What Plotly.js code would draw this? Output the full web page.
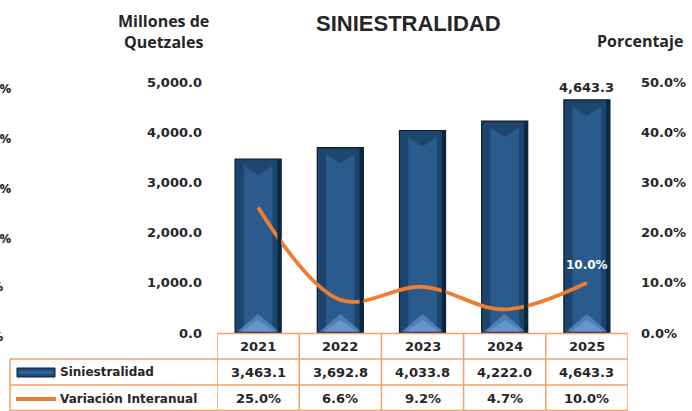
<!DOCTYPE html>
<html>
<head>
<meta charset="utf-8">
<script src="https://cdn.plot.ly/plotly-3.0.1.min.js"></script>
<style>html,body{margin:0;padding:0;background:#fff;}#chart{width:692px;height:411px;}</style>
</head>
<body>
<div id="chart"></div>
<script>
// ---- data ----
const years = ['2021', '2022', '2023', '2024', '2025'];
const siniestralidad = [3463.1, 3692.8, 4033.8, 4222.0, 4643.3];
const variacion = [25.0, 6.6, 9.2, 4.7, 10.0];
const leftTicks = [0, 1000, 2000, 3000, 4000, 5000];
const rightTicks = [0, 10, 20, 30, 40, 50];

// ---- layout helpers ----
const W = 692, H = 411;
const M = {l: 217, r: 64, t: 82, b: 78};
const plotW = W - M.l - M.r, plotH = H - M.t - M.b;
const xp = px => (px - M.l) / plotW;
const yp = py => (M.t + plotH - py) / plotH;
const yMax = 5000;
const unitPerPx = yMax / plotH;
const idx = years.map((_, i) => i);
const barW = 0.56;
const NUM = 'DejaVu Sans, Verdana, sans-serif';
const TXT = '#262626';
const ORANGE = '#ED7D31';
const GRID = '#F3A16A';

const fmt1 = v => v.toLocaleString('en-US', {minimumFractionDigits: 1, maximumFractionDigits: 1});

const traces = [
  {type: 'bar', x: idx, y: siniestralidad, width: barW,
   marker: {color: '#1B456F', line: {color: '#0A1B2E', width: 1.2}},
   hoverinfo: 'skip', showlegend: false},
  {type: 'bar', x: idx, y: siniestralidad.map(v => v - 2 * 6 * unitPerPx),
   base: siniestralidad.map(() => 6 * unitPerPx), width: barW * 0.62,
   marker: {color: '#2A5B8C', line: {width: 0}},
   hoverinfo: 'skip', showlegend: false},
  {type: 'scatter', mode: 'lines', x: idx, y: variacion, yaxis: 'y2',
   line: {color: ORANGE, width: 3.8, shape: 'spline', smoothing: 1},
   hoverinfo: 'skip', showlegend: false}
];

const shapes = [];
const annotations = [];
const hw = barW / 2;
idx.forEach((c, i) => {
  const top = siniestralidad[i];
  // bottom light bevel
  shapes.push({type: 'path', xref: 'x', yref: 'y', layer: 'above', line: {width: 0},
    fillcolor: '#4F80B3',
    path: `M ${c - hw + 0.03} ${1.5 * unitPerPx} L ${c + hw - 0.03} ${1.5 * unitPerPx} L ${c} ${19 * unitPerPx} Z`});
  shapes.push({type: 'path', xref: 'x', yref: 'y', layer: 'above', line: {width: 0},
    fillcolor: '#6696C9',
    path: `M ${c - hw + 0.08} ${1.5 * unitPerPx} L ${c + hw - 0.08} ${1.5 * unitPerPx} L ${c} ${13 * unitPerPx} Z`});
  // top dark bevel
  shapes.push({type: 'path', xref: 'x', yref: 'y', layer: 'above', line: {width: 0},
    fillcolor: '#1F476E',
    path: `M ${c - hw + 0.04} ${top - 3 * unitPerPx} L ${c + hw - 0.04} ${top - 3 * unitPerPx} L ${c} ${top - 16 * unitPerPx} Z`});
  // right dark edge
  shapes.push({type: 'rect', xref: 'x', yref: 'y', layer: 'above', line: {width: 0},
    fillcolor: '#0E2740', x0: c + hw - 0.045, x1: c + hw, y0: 0, y1: top});
});

// table grid
const hline = (py, x0px, x1px) => shapes.push({type: 'line', xref: 'paper', yref: 'paper',
  x0: xp(x0px), x1: xp(x1px), y0: yp(py), y1: yp(py), line: {color: GRID, width: 1.5}});
hline(333.5, 217, 628);
hline(359, 10, 628);
hline(385, 10, 628);
hline(410.5, 10, 628);
shapes.push({type: 'line', xref: 'paper', yref: 'paper', x0: xp(10), x1: xp(10), y0: yp(359), y1: yp(411),
  line: {color: GRID, width: 1.5}});
for (let k = 0; k <= years.length; k++) {
  shapes.push({type: 'line', xref: 'x', yref: 'paper', x0: k - 0.5, x1: k - 0.5, y0: yp(333.5), y1: yp(411),
    line: {color: GRID, width: 1.5}});
}
// legend swatches
shapes.push({type: 'rect', xref: 'paper', yref: 'paper', x0: xp(17), x1: xp(55), y0: yp(377), y1: yp(368),
  fillcolor: '#1F4C78', line: {color: '#0B1E33', width: 1}});
shapes.push({type: 'rect', xref: 'paper', yref: 'paper', x0: xp(19), x1: xp(53), y0: yp(374), y1: yp(371),
  fillcolor: '#2F6295', line: {width: 0}});
shapes.push({type: 'line', xref: 'paper', yref: 'paper', x0: xp(16), x1: xp(56), y0: yp(399), y1: yp(399),
  line: {color: ORANGE, width: 4}});

// table text
idx.forEach((c, i) => {
  annotations.push({xref: 'x', yref: 'paper', x: c, y: yp(346), text: years[i], showarrow: false,
    font: {family: NUM, size: 13, color: TXT, weight: 'bold'}, yanchor: 'middle'});
  annotations.push({xref: 'x', yref: 'paper', x: c, y: yp(372), text: fmt1(siniestralidad[i]), showarrow: false,
    font: {family: NUM, size: 13, color: TXT, weight: 'bold'}, yanchor: 'middle'});
  annotations.push({xref: 'x', yref: 'paper', x: c, y: yp(398.5), text: fmt1(variacion[i]) + '%', showarrow: false,
    font: {family: NUM, size: 13, color: TXT, weight: 'bold'}, yanchor: 'middle'});
});
annotations.push({xref: 'paper', yref: 'paper', x: xp(58), y: yp(372), text: 'Siniestralidad', showarrow: false,
  xanchor: 'left', yanchor: 'middle', font: {family: NUM, size: 12, color: TXT, weight: 'bold'}});
annotations.push({xref: 'paper', yref: 'paper', x: xp(58), y: yp(399), text: 'Variación Interanual', showarrow: false,
  xanchor: 'left', yanchor: 'middle', font: {family: NUM, size: 12, color: TXT, weight: 'bold'}});

// data labels
const last = years.length - 1;
annotations.push({xref: 'x', yref: 'y', x: last, y: siniestralidad[last], text: fmt1(siniestralidad[last]),
  showarrow: false, yanchor: 'bottom', yshift: 3, font: {family: NUM, size: 13, color: TXT, weight: 'bold'}});
annotations.push({xref: 'x', yref: 'y2', x: last, y: variacion[last], text: fmt1(variacion[last]) + '%',
  showarrow: false, yanchor: 'bottom', yshift: 9, font: {family: NUM, size: 12, color: '#ffffff', weight: 'bold'}});

// titles
annotations.push({xref: 'paper', yref: 'paper', x: xp(408), y: yp(24), text: 'SINIESTRALIDAD', showarrow: false,
  xanchor: 'center', yanchor: 'middle', font: {family: 'Liberation Sans, Arial, sans-serif', size: 22, color: TXT, weight: 'bold'}});
annotations.push({xref: 'paper', yref: 'paper', x: xp(163), y: yp(32), text: 'Millones de<br>Quetzales', showarrow: false,
  xanchor: 'center', yanchor: 'middle', font: {family: 'Open Sans, sans-serif', size: 16, color: TXT, weight: 'bold'}});
annotations.push({xref: 'paper', yref: 'paper', x: xp(640), y: yp(41), text: 'Porcentaje', showarrow: false,
  xanchor: 'center', yanchor: 'middle', font: {family: 'Open Sans, sans-serif', size: 16, color: TXT, weight: 'bold'}});

// cut-off labels at the left edge (from a neighbouring chart)
[88, 138, 188, 238].forEach(py => annotations.push({xref: 'paper', yref: 'paper', x: xp(14), y: yp(py),
  text: '0.0%', showarrow: false, xanchor: 'right', yanchor: 'middle',
  font: {family: 'Open Sans, sans-serif', size: 13, color: TXT, weight: 'bold'}}));
[286, 336].forEach(py => annotations.push({xref: 'paper', yref: 'paper', x: xp(5), y: yp(py),
  text: '0%', showarrow: false, xanchor: 'right', yanchor: 'middle',
  font: {family: 'Open Sans, sans-serif', size: 13, color: TXT, weight: 'bold'}}));

const layout = {
  width: W, height: H, margin: M,
  paper_bgcolor: '#ffffff', plot_bgcolor: '#ffffff',
  barmode: 'overlay', showlegend: false,
  xaxis: {range: [-0.5, years.length - 0.5], showticklabels: false, showgrid: false, zeroline: false,
    showline: false, ticks: '', fixedrange: true},
  yaxis: {range: [0, yMax], tickvals: leftTicks, ticktext: leftTicks.map(fmt1), showgrid: false, zeroline: false,
    showline: false, ticks: '', ticklabelstandoff: 14,
    tickfont: {family: NUM, size: 13, color: TXT, weight: 'bold'}},
  yaxis2: {range: [0, 50], overlaying: 'y', side: 'right', tickvals: rightTicks,
    ticktext: rightTicks.map(v => fmt1(v) + '%'), showgrid: false, zeroline: false, showline: false,
    ticks: '', ticklabelstandoff: 12,
    tickfont: {family: NUM, size: 13, color: TXT, weight: 'bold'}},
  shapes: shapes, annotations: annotations
};

Plotly.newPlot('chart', traces, layout, {displayModeBar: false, staticPlot: true});
</script>
</body>
</html>
